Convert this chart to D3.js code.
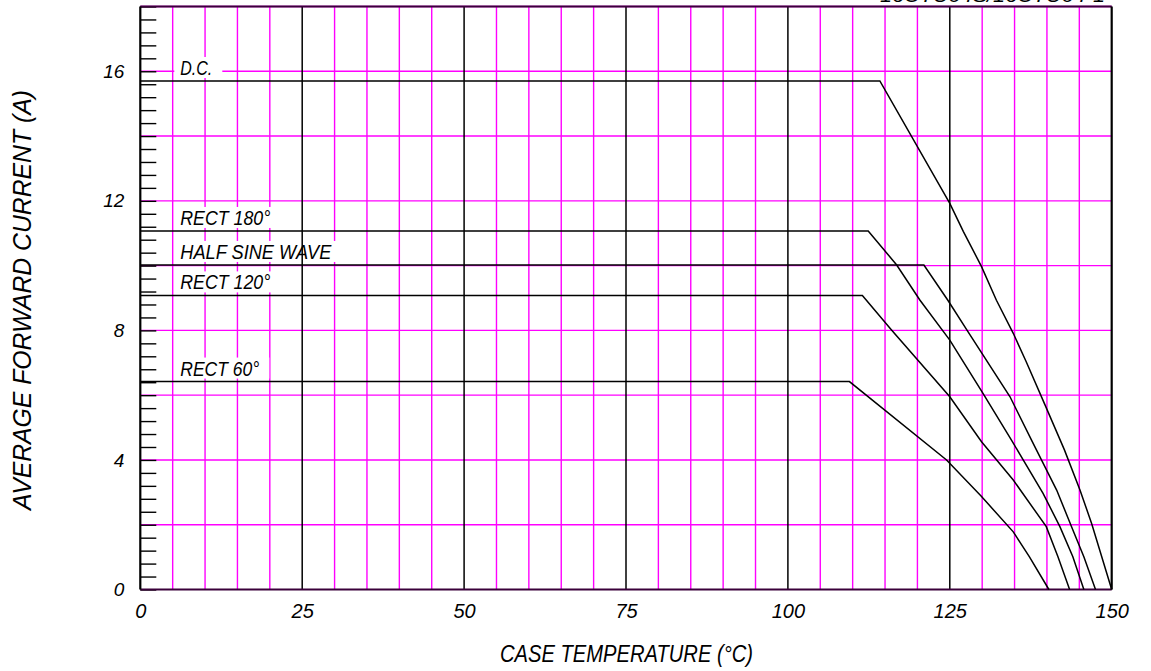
<!DOCTYPE html>
<html lang="en">
<head>
  <meta charset="UTF-8">
  <title>Current derating</title>
  <script src="https://d3js.org/d3.v7.min.js"></script>
  <style>
    body { margin: 0; background: #fff; }
    text { font-family: "Liberation Sans", Arial, sans-serif; font-style: italic; fill: #000; }
  </style>
</head>
<body>
  <svg id="chart" width="1151" height="671"></svg>
  <script>
    // curve names, and the points (case temp degC, current A)
    const seriesNames = ["D.C.", "RECT 180°", "HALF SINE WAVE", "RECT 120°", "RECT 60°"];

    const dcTemp = [0, 114.2, 125, 127.1, 129.9, 132.2, 134.8, 136.8, 139.7, 142.7, 145.1, 146.9, 150];
    const dcCurrent = [15.7, 15.7, 11.92, 11.05, 9.97, 8.93, 7.91, 7.03, 5.7, 4.31, 3.07, 2.04, 0];

    const rect180Temp = [0, 112.4, 116.8, 120.4, 125, 126.9, 130.1, 134.5, 139.4, 142.0, 144.0, 145.7];
    const rect180Current = [11.07, 11.07, 10.02, 8.93, 7.7, 7.09, 6.06, 4.62, 2.97, 1.94, 1.01, 0];

    const sineTemp = [0, 121, 124.7, 127.8, 134.3, 137.6, 141.5, 143.8, 145.7, 147.5];
    const sineCurrent = [10.02, 10.02, 8.93, 7.96, 5.95, 4.62, 3.07, 1.94, 1.01, 0];

    const rect120Temp = [0, 111.5, 116.0, 125, 129.9, 134.8, 139.9, 141.7, 143.5];
    const rect120Current = [9.08, 9.08, 8.01, 5.95, 4.56, 3.38, 1.94, 1.01, 0];

    const rect60Temp = [0, 109.5, 124.5, 129.9, 134.8, 137.3, 140.3];
    const rect60Current = [6.42, 6.42, 4.0, 2.87, 1.78, 1.01, 0];

    const xTicks = [0, 25, 50, 75, 100, 125, 150];
    const yTicks = [0, 4, 8, 12, 16];

    const svg = d3.select("svg#chart");
    const margin = {top: 6.5, left: 140.3, right: 39.3, bottom: 81.5};
    const width = +svg.attr("width");
    const height = +svg.attr("height");
    const chartWidth = width - margin.left - margin.right;
    const chartHeight = height - margin.top - margin.bottom;

    const x = d3.scaleLinear().domain([0, 150]).range([0, chartWidth]);
    const y = d3.scaleLinear().domain([0, 18]).range([chartHeight, 0]);

    const chart = svg.append("g")
                     .attr("transform", `translate(${margin.left},${margin.top})`);

    const magenta = "#ff00ff";

    // magenta grid, every 5 degC and every 2 A
    const minorX = d3.range(5, 150, 5).filter(v => v % 25 !== 0);
    chart.append("g")
         .selectAll("line")
         .data(minorX)
         .join("line")
         .attr("x1", d => x(d)).attr("x2", d => x(d))
         .attr("y1", 0).attr("y2", chartHeight)
         .attr("stroke", magenta).attr("stroke-width", 1.4);

    chart.append("g")
         .selectAll("line")
         .data(d3.range(2, 19, 2))
         .join("line")
         .attr("x1", 0).attr("x2", chartWidth)
         .attr("y1", d => y(d)).attr("y2", d => y(d))
         .attr("stroke", magenta).attr("stroke-width", 1.4);

    // white boxes behind the curve labels
    const series = [
      {name: seriesNames[0], t: dcTemp, c: dcCurrent, w: 32},
      {name: seriesNames[1], t: rect180Temp, c: rect180Current, w: 90},
      {name: seriesNames[2], t: sineTemp, c: sineCurrent, w: 151},
      {name: seriesNames[3], t: rect120Temp, c: rect120Current, w: 90},
      {name: seriesNames[4], t: rect60Temp, c: rect60Current, w: 79}
    ];

    series.forEach(s => {
      let base = y(s.c[0]) - 6;
      chart.append("rect")
           .attr("x", 34)
           .attr("y", base - 18)
           .attr("width", s.w + 16)
           .attr("height", 21)
           .attr("fill", "#fff");
    });

    // black grid at 25 degC steps
    chart.append("g")
         .selectAll("line")
         .data(xTicks.filter(v => v > 0 && v < 150))
         .join("line")
         .attr("x1", d => x(d)).attr("x2", d => x(d))
         .attr("y1", 0).attr("y2", chartHeight)
         .attr("stroke", "#000").attr("stroke-width", 1.5);

    // short ticks on the left axis
    const leftTicks = d3.axisRight(y)
                        .tickValues(d3.range(0, 46).map(i => i * 0.4))
                        .tickSize(16)
                        .tickFormat("");
    chart.append("g")
         .call(leftTicks)
         .call(g => g.select(".domain").remove())
         .selectAll("line")
         .attr("stroke", "#000")
         .attr("stroke-width", 1.4);

    // frame
    chart.append("line").attr("x1", 0).attr("x2", chartWidth).attr("y1", 0).attr("y2", 0)
         .attr("stroke", "#3a003a").attr("stroke-width", 2.2);
    chart.append("line").attr("x1", 0).attr("x2", chartWidth).attr("y1", chartHeight).attr("y2", chartHeight)
         .attr("stroke", "#3a003a").attr("stroke-width", 2.2);
    chart.append("line").attr("x1", 0).attr("x2", 0).attr("y1", 0).attr("y2", chartHeight)
         .attr("stroke", "#000").attr("stroke-width", 2.2);
    chart.append("line").attr("x1", chartWidth).attr("x2", chartWidth).attr("y1", 0).attr("y2", chartHeight)
         .attr("stroke", "#000").attr("stroke-width", 2.2);

    // curves
    const line = d3.line()
                   .x(d => x(d[0]))
                   .y(d => y(d[1]));

    series.forEach(s => {
      chart.append("path")
           .datum(d3.zip(s.t, s.c))
           .attr("d", line)
           .attr("fill", "none")
           .attr("stroke", "#000")
           .attr("stroke-width", 1.5);

      chart.append("text")
           .attr("x", 40)
           .attr("y", y(s.c[0]) - 6)
           .attr("textLength", s.w)
           .attr("lengthAdjust", "spacingAndGlyphs")
           .style("font-size", "21px")
           .text(s.name);
    });

    // axis labels
    const bottomAxis = d3.axisBottom(x).tickValues(xTicks).tickSize(0).tickPadding(14);
    chart.append("g")
         .attr("transform", `translate(0,${chartHeight})`)
         .call(bottomAxis)
         .call(g => g.select(".domain").remove())
         .selectAll("text")
         .attr("fill", "#000")
         .style("font-size", "20px")
         .style("font-family", "'Liberation Sans', Arial, sans-serif");

    const leftAxis = d3.axisLeft(y).tickValues(yTicks).tickSize(0).tickPadding(16);
    chart.append("g")
         .call(leftAxis)
         .call(g => g.select(".domain").remove())
         .selectAll("text")
         .attr("fill", "#000")
         .style("font-size", "19px")
         .style("font-family", "'Liberation Sans', Arial, sans-serif");

    svg.append("text")
       .attr("x", 626.5)
       .attr("y", 662)
       .attr("text-anchor", "middle")
       .attr("textLength", 253)
       .attr("lengthAdjust", "spacingAndGlyphs")
       .style("font-size", "24px")
       .text("CASE TEMPERATURE (°C)");

    svg.append("text")
       .attr("transform", "translate(31,300) rotate(-90)")
       .attr("text-anchor", "middle")
       .attr("textLength", 420)
       .attr("lengthAdjust", "spacingAndGlyphs")
       .style("font-size", "25px")
       .text("AVERAGE FORWARD CURRENT (A)");

    // part number at the top, mostly cut off
    svg.append("text")
       .attr("x", 1105)
       .attr("y", 2)
       .attr("text-anchor", "end")
       .attr("textLength", 225)
       .attr("lengthAdjust", "spacingAndGlyphs")
       .style("font-size", "19px")
       .text("16CTU04S/16CTU04-1");
  </script>
</body>
</html>
